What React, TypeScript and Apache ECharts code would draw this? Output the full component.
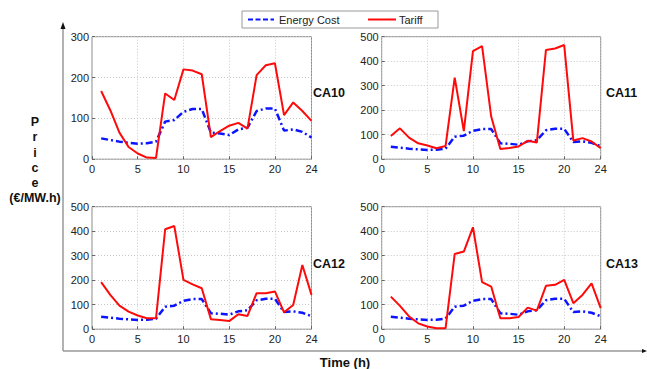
import React, { useEffect, useRef } from "react";
import * as echarts from "echarts";

const hours = [1, 2, 3, 4, 5, 6, 7, 8, 9, 10, 11, 12, 13, 14, 15, 16, 17, 18, 19, 20, 21, 22, 23, 24];
const energyCost = [51, 47, 43, 40, 38, 39, 43, 92, 96, 116, 123, 123, 65, 63, 59, 73, 77, 118, 124, 124, 70, 73, 67, 53];
const tariffCA10 = [167, 120, 65, 30, 14, 4, 3, 161, 145, 220, 217, 208, 54, 69, 82, 89, 75, 206, 230, 235, 108, 139, 118, 94];
const tariffCA11 = [95, 126, 88, 65, 56, 45, 54, 333, 115, 441, 462, 174, 42, 46, 52, 75, 68, 446, 452, 466, 76, 86, 72, 45];
const tariffCA12 = [192, 140, 96, 72, 56, 45, 45, 408, 421, 201, 183, 167, 41, 38, 33, 61, 54, 147, 147, 154, 69, 99, 262, 140];
const tariffCA13 = [133, 95, 52, 24, 11, 4, 4, 307, 317, 416, 192, 174, 45, 45, 50, 88, 76, 177, 181, 201, 106, 140, 187, 86];
const panelNames = ["CA10", "CA11", "CA12", "CA13"];
const panelTariffs = [tariffCA10, tariffCA11, tariffCA12, tariffCA13];
const panelYMax = [300, 500, 500, 500];
const xTicks = [0, 5, 10, 15, 20, 24];

const FONT = "Liberation Sans, Arial, sans-serif";

const grids = [
  { left: 92, top: 36.7, width: 219.5, height: 122.5 },
  { left: 381.7, top: 36.7, width: 219, height: 122.5 },
  { left: 92, top: 206.7, width: 219.5, height: 122.5 },
  { left: 381.7, top: 206.7, width: 219, height: 122.5 },
];
const labelPos = [
  { x: 313, y: 93 },
  { x: 606, y: 93 },
  { x: 313, y: 264 },
  { x: 606, y: 264 },
];

export default function App() {
  const ref = useRef<HTMLDivElement>(null);
  useEffect(() => {
    if (!ref.current) return;
    const chart = echarts.init(ref.current, null, { renderer: "svg" });
    const pair = (vals: number[]) => hours.map((h, i) => [h, vals[i]]);
    const option: any = {
      animation: false,
      backgroundColor: "#ffffff",
      grid: grids.map((g) => ({ ...g, show: true, borderColor: "#8a8a8a", borderWidth: 1, containLabel: false })),
      xAxis: grids.map((_, i) => ({
        type: "value",
        gridIndex: i,
        min: 0,
        max: 24,
        interval: 5,
        axisLine: { show: false },
        axisTick: { show: true, inside: true, length: 3, lineStyle: { color: "#666" } },
        axisLabel: {
          color: "#222",
          fontFamily: FONT,
          fontSize: 11,
          margin: 4,
          customValues: xTicks,
        },
        splitLine: { show: true, lineStyle: { color: "#c8c8c8", type: [1, 2], width: 1 } },
      })),
      yAxis: grids.map((_, i) => ({
        type: "value",
        gridIndex: i,
        min: 0,
        max: panelYMax[i],
        interval: 100,
        axisLine: { show: false },
        axisTick: { show: true, inside: true, length: 3, lineStyle: { color: "#666" } },
        axisLabel: { color: "#222", fontFamily: FONT, fontSize: 11, margin: 3 },
        splitLine: { show: true, lineStyle: { color: "#c8c8c8", type: [1, 2], width: 1 } },
      })),
      series: [
        ...grids.map((_, i) => ({
          name: "Energy Cost",
          type: "line",
          xAxisIndex: i,
          yAxisIndex: i,
          data: pair(energyCost),
          symbol: "none",
          lineStyle: { color: "#0a14ff", width: 2.5, type: [7, 3, 2, 3] },
          z: 3,
        })),
        ...grids.map((_, i) => ({
          name: "Tariff",
          type: "line",
          xAxisIndex: i,
          yAxisIndex: i,
          data: pair(panelTariffs[i]),
          symbol: "none",
          lineStyle: { color: "#ff0a0a", width: 2 },
          z: 4,
        })),
      ],
      graphic: [
        // outer axes
        { type: "line", shape: { x1: 63, y1: 27, x2: 63, y2: 351 }, style: { stroke: "#999", lineWidth: 1.5 } },
        { type: "polygon", shape: { points: [[60.5, 29], [63, 22], [65.5, 29]] }, style: { fill: "#111" } },
        { type: "line", shape: { x1: 63, y1: 351, x2: 644, y2: 351 }, style: { stroke: "#999", lineWidth: 1.5 } },
        { type: "polygon", shape: { points: [[642, 349], [647, 351], [642, 353]] }, style: { fill: "#111" } },
        // y title
        {
          type: "text",
          x: 35,
          y: 114.5,
          style: {
            text: "P\nr\ni\nc\ne\n(€/MW.h)",
            fontFamily: FONT,
            fontWeight: "bold",
            fontSize: 12.5,
            lineHeight: 15.2,
            fill: "#111",
            align: "center",
            verticalAlign: "top",
          },
        },
        // x title
        {
          type: "text",
          x: 345,
          y: 362,
          style: {
            text: "Time (h)",
            fontFamily: FONT,
            fontWeight: "bold",
            fontSize: 13,
            fill: "#111",
            align: "center",
            verticalAlign: "middle",
          },
        },
        // panel labels
        ...panelNames.map((n, i) => ({
          type: "text",
          x: labelPos[i].x,
          y: labelPos[i].y,
          style: {
            text: n,
            fontFamily: FONT,
            fontWeight: "bold",
            fontSize: 12.5,
            fill: "#111",
            align: "left",
            verticalAlign: "middle",
          },
        })),
        // legend
        {
          type: "rect",
          shape: { x: 242, y: 11, width: 196, height: 17 },
          style: { fill: "#fff", stroke: "#999", lineWidth: 1 },
        },
        {
          type: "line",
          shape: { x1: 248, y1: 19.5, x2: 274, y2: 19.5 },
          style: { stroke: "#0a14ff", lineWidth: 2, lineDash: [5, 2.5] },
        },
        {
          type: "text",
          x: 279,
          y: 19.5,
          style: { text: "Energy Cost", fontFamily: FONT, fontSize: 11, fill: "#222", align: "left", verticalAlign: "middle" },
        },
        {
          type: "line",
          shape: { x1: 368, y1: 19.5, x2: 396, y2: 19.5 },
          style: { stroke: "#ff0a0a", lineWidth: 2 },
        },
        {
          type: "text",
          x: 399,
          y: 19.5,
          style: { text: "Tariff", fontFamily: FONT, fontSize: 11, fill: "#222", align: "left", verticalAlign: "middle" },
        },
      ],
    };
    chart.setOption(option);
    return () => chart.dispose();
  }, []);
  return (
    <div
      ref={ref}
      style={{ position: "absolute", left: 0, top: 0, width: 647, height: 369 }}
    />
  );
}
